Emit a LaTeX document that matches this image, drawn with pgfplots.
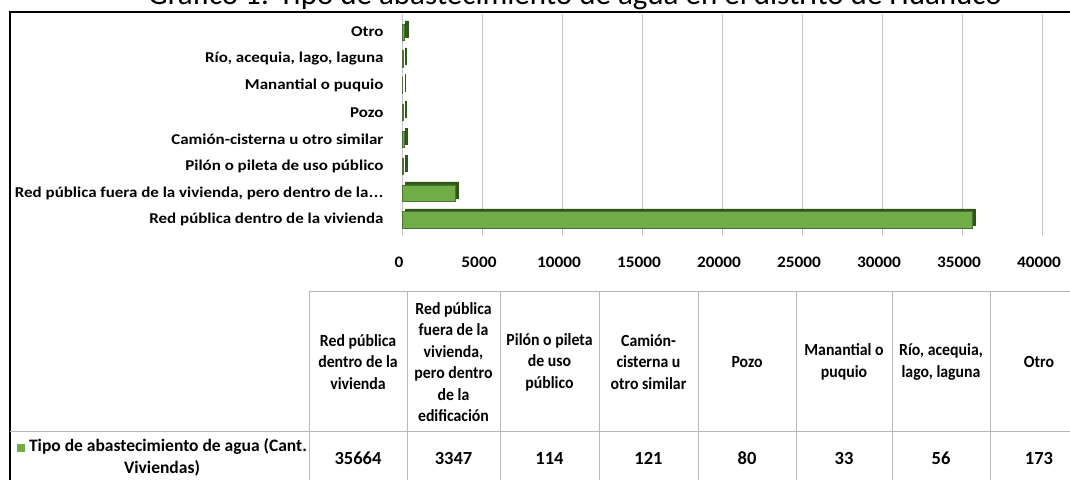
\documentclass[border=0pt]{standalone}
\usepackage{pgfplots}
\usepackage{pgfplotstable}
\pgfplotsset{compat=1.18}
\usepackage{fontspec}
\setmainfont{Carlito}
\newfontfamily\axisfont{Carlito}[FakeStretch=1.13]
\newfontfamily\tickfont{Carlito}[FakeStretch=1.08]
\newfontfamily\tabfont{Carlito}[FakeStretch=0.93]
\definecolor{barg}{HTML}{70AD47}
\definecolor{bard}{HTML}{2E5716}
\definecolor{gridc}{HTML}{C4C4C4}
\definecolor{tabc}{HTML}{B8B8B8}

\pgfplotstableread{
idx val
0 35664
1 3347
2 114
3 121
4 80
5 33
6 56
7 173
}\datatable

\begin{document}
\begin{tikzpicture}
\useasboundingbox (0pt,0pt) rectangle (1070pt,479pt);
\clip (0pt,0pt) rectangle (1070pt,479pt);
\begin{scope}[x=1pt,y=1pt]
% title (cut off at the top in the reference)
\node[font=\fontsize{31}{33}\selectfont, anchor=base, inner sep=0pt] at (575,474) {Gráfico 1: Tipo de abastecimiento de agua en el distrito de Huánuco};
% outer frame
\draw[line width=2pt] (10,467) rectangle (1090,-20);
\end{scope}

\begin{axis}[
  at={(402pt,243pt)}, anchor=south west,
  scale only axis, width=640pt, height=222pt,
  xmin=0, xmax=40000, ymin=-0.6, ymax=7.67,
  xbar, bar width=0.6,
  scaled x ticks=false,
  ytick={0,1,2,3,4,5,6,7},
  yticklabels={Red pública dentro de la vivienda,
    {Red pública fuera de la vivienda, pero dentro de la\kern0.5pt.\kern0.5pt.\kern0.5pt.},
    Pilón o pileta de uso público,
    Camión-cisterna u otro similar,
    Pozo, Manantial o puquio,
    {Río, acequia, lago, laguna}, Otro},
  xtick={0,5000,10000,15000,20000,25000,30000,35000,40000},
  xticklabels={0,5000,10000,15000,20000,25000,30000,35000,40000},
  xticklabel style={font=\tickfont\fontsize{16}{16}\selectfont\bfseries, anchor=center, yshift=-26pt, xshift=-3pt},
  yticklabel style={font=\axisfont\fontsize{15}{15}\selectfont\bfseries, anchor=east, xshift=-15pt},
  axis line style={draw=none},
  major tick length=0pt,
  xmajorgrids, grid style={gridc, line width=0.9pt},
  clip=false,
]
\addplot[fill=bard, draw=bard, bar shift=0pt, xshift=3pt, yshift=3pt] table[x=val,y=idx]{\datatable};
\addplot[fill=barg, draw=bard!85, line width=0.7pt, bar shift=0pt] table[x=val,y=idx]{\datatable};
\end{axis}

\begin{scope}[x=1pt,y=1pt]
% data table below the chart
\begin{scope}[tabc, line width=1pt]
\draw (309,187) -- (1088,187);
\draw (10,47) -- (1088,47);
\foreach \cx in {309,407,500,599,698,796,892,990,1088}
  \draw (\cx,187) -- (\cx,-20);
\end{scope}

\begin{scope}[every node/.style={font=\tabfont\fontsize{17}{21.5}\selectfont\bfseries, align=center, inner sep=0pt, text=black}]
\node at (358,117) {Red pública\\dentro de la\\vivienda};
\node at (453.5,117) {Red pública\\fuera de la\\vivienda,\\pero dentro\\de la\\edificación};
\node at (549.5,117) {Pilón o pileta\\de uso\\público};
\node at (648.5,117) {Camión-\\cisterna u\\otro similar};
\node at (747,117) {Pozo};
\node at (844,117) {Manantial o\\puquio};
\node at (941,117) {Río, acequia,\\lago, laguna};
\node at (1039,117) {Otro};
\node[font=\fontsize{17.5}{21.5}\selectfont\bfseries] at (162,21.5) {{\color{barg}\rule{8pt}{8pt}} Tipo de abastecimiento de agua (Cant.\\Viviendas)};
\foreach \i/\cx in {0/358,1/453.5,2/549.5,3/648.5,4/747,5/844,6/941,7/1039}{
  \pgfplotstablegetelem{\i}{val}\of\datatable
  \node[font=\fontsize{18.5}{21.5}\selectfont\bfseries] at (\cx,21) {\pgfplotsretval};
}
\end{scope}
\end{scope}
\end{tikzpicture}
\end{document}
